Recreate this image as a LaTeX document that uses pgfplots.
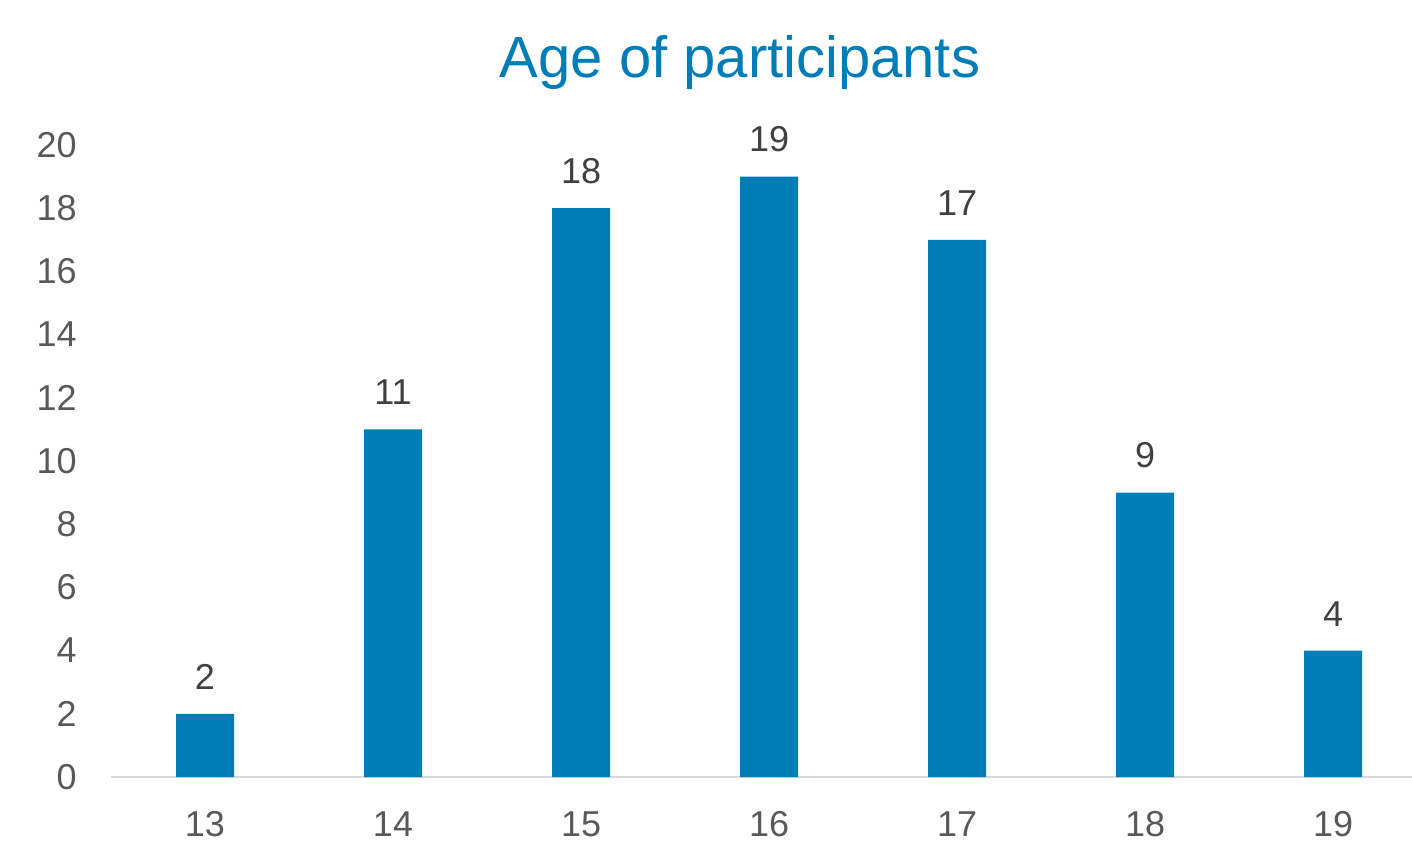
\documentclass[border=0pt]{standalone}
\usepackage{pgfplots}
\pgfplotsset{compat=1.18}
\usepackage{fontspec}
\setmainfont{Liberation Sans}
\definecolor{barblue}{HTML}{007CB7}
\definecolor{tickgray}{HTML}{595959}
\definecolor{labelgray}{HTML}{404040}
\definecolor{axisgray}{HTML}{D9D9D9}
\begin{document}
\begin{tikzpicture}
\begin{axis}[
    at={(0pt,0pt)}, anchor=south west,
    scale only axis,
    width=650.5pt, height=316pt,
    xmin=-0.5, xmax=6.42,
    ymin=0, ymax=20,
    ytick={0,2,...,20},
    xtick=data,
    xticklabels={13,14,15,16,17,18,19},
    axis lines*=left,
    x axis line style={draw=axisgray, line width=1pt, -},
    y axis line style={draw=none, -},
    major tick length=0pt,
    tick style={draw=none},
    /pgf/number format/assume math mode=true,
    ticklabel style={font=\fontsize{18}{20}\selectfont, text=tickgray, inner sep=0pt},
    xticklabel style={anchor=base, yshift=-29.5pt},
    yticklabel style={anchor=east, xshift=-17pt},
    every node near coord/.append style={font=\fontsize{18}{20}\selectfont, text=labelgray, anchor=south, inner sep=0pt, yshift=12pt},
    clip=false,
]
\addplot[ybar, bar width=29pt, fill=barblue, draw=none, nodes near coords]
table[row sep=crcr]{
    0 2  \\
    1 11 \\
    2 18 \\
    3 19 \\
    4 17 \\
    5 9  \\
    6 4  \\
};
\end{axis}
\node[anchor=base, text=barblue, font=\fontsize{29}{32}\selectfont, inner sep=0pt] at (314.5pt,349.5pt) {Age of participants};
\pgfresetboundingbox
\path (-55.5pt,-31.5pt) rectangle (650.5pt,388.5pt);
\end{tikzpicture}
\end{document}
